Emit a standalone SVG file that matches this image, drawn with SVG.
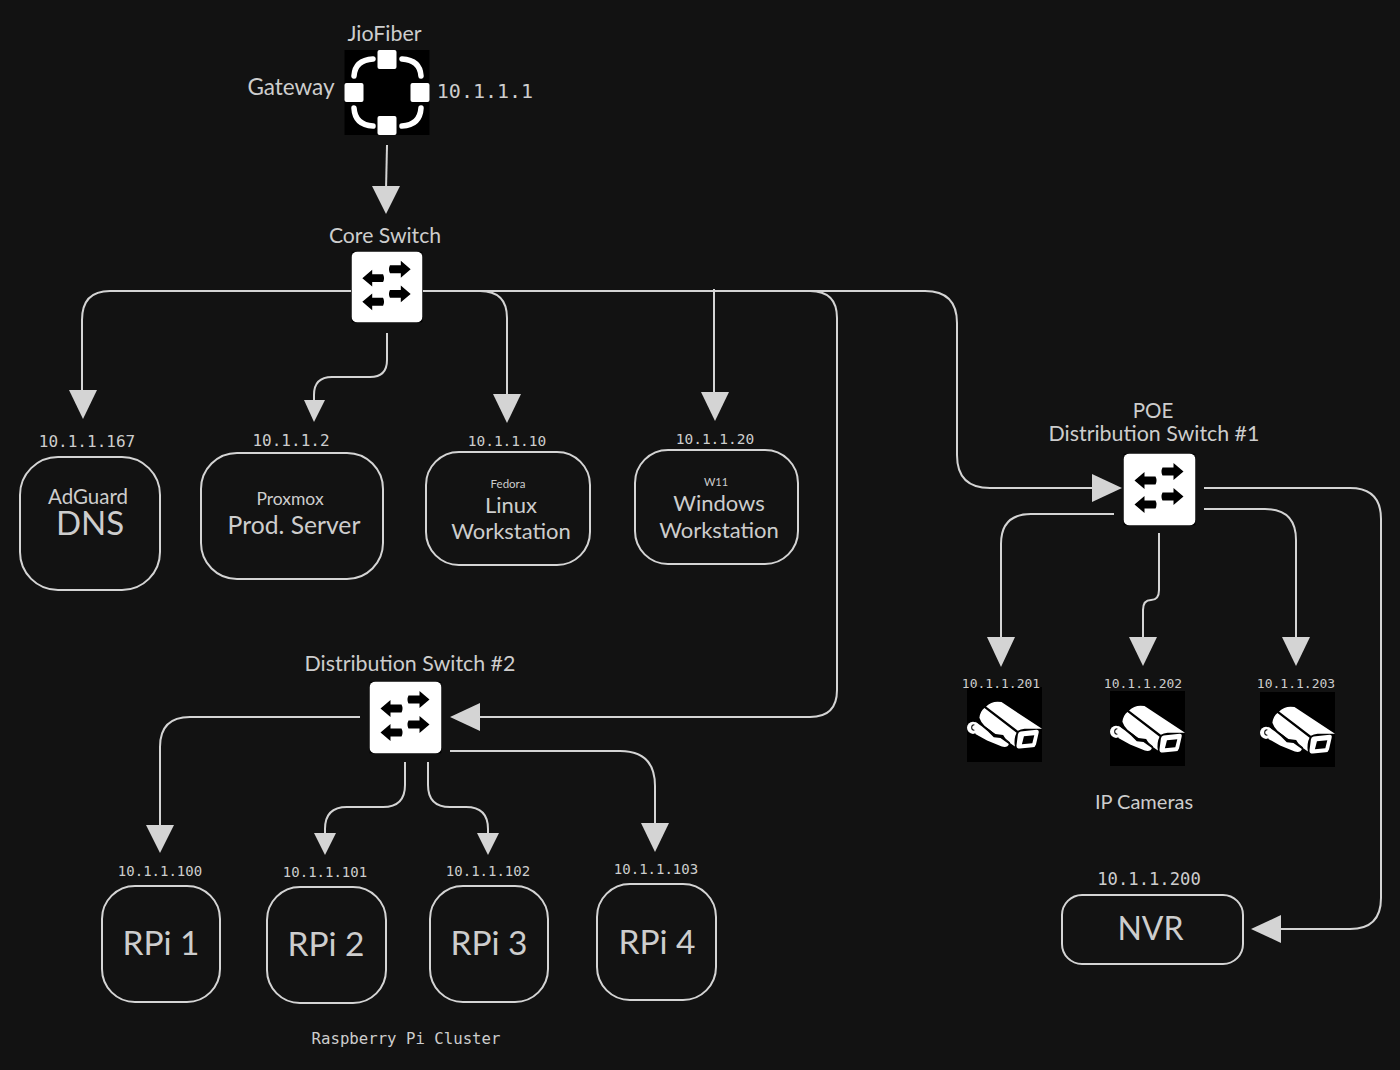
<svg xmlns="http://www.w3.org/2000/svg" width="1400" height="1070" viewBox="0 0 1400 1070">
<style>
text{font-family:"Lato","Noto Sans",sans-serif;fill:#cdcdcd;text-anchor:middle}
.m{font-family:"DejaVu Sans Mono","Liberation Mono",monospace;font-size:14px}
.c{fill:none;stroke:#d4d4d4;stroke-width:2}
.b{fill:none;stroke:#d4d4d4;stroke-width:2}
.a{fill:#d4d4d4}
</style>
<defs>
<symbol id="sw" viewBox="0 0 72 72">
<rect width="72" height="72" fill="#000"/>
<rect width="72" height="72" rx="6" fill="#fff"/>
<g fill="#000">
<path d="M11 27 L21 18.500 V23 L32 23 Q34 27 32 31 L21 31 V35.500Z"/>
<path d="M11 51 L21 42.500 V47 L32 47 Q34 51 32 55 L21 55 V59.500Z"/>
<path d="M60 18 L50 9.500 V14 L39 14 Q37 18 39 22 L50 22 V26.500Z"/>
<path d="M60 43 L50 34.500 V39 L39 39 Q37 43 39 47 L50 47 V51.500Z"/>
</g>
</symbol>
<symbol id="cam" viewBox="0 0 224 224">
<rect width="224" height="224" fill="#000"/>
<g fill="#fff">
<path d="M57 58 Q75 40 103 45 L224 125 L172 125 Q160 126 152 131Z"/>
<path d="M52 63 L148 137 Q139 155 143 178 L118 160 L108 143 L85 140 Q45 118 37 92 Q40 72 52 63Z"/>
<path d="M160 133 L208 128 Q216 128 214 137 L206 172 Q204 180 196 180 L158 184 Q146 184 148 173 L152 142 Q153 134 160 133Z"/>
<circle cx="18" cy="122" r="18"/>
<path d="M25 104 L45 118 L62 132 L80 150 L100 152 L125 170 Q122 182 104 178 L60 160 L25 140Z"/>
</g>
<path d="M170 147 L201 144 L195 168 L164 171Z" fill="#000"/>
<path d="M22 113 A8 8 0 1 0 22 129" fill="none" stroke="#000" stroke-width="3"/>
<path d="M48 116 L68 130 L84 144 L104 147 L128 167" fill="none" stroke="#000" stroke-width="3.500"/>
</symbol>
</defs>
<rect width="1400" height="1070" fill="#121212"/>

<g id="connectors">
<path class="c" d="M387 145 L386 190"/><path class="a" d="M372 186 H400 L386 214Z"/>
<path class="c" d="M351 291 H110 Q82 291 82 320 V392"/><path class="a" d="M69 390 H97 L83 419Z"/>
<path class="c" d="M387 333 V360 Q387 377 370 377 H332 Q314 377 314 395 V402"/><path class="a" d="M304 400 H325 L314 422Z"/>
<path class="c" d="M423 291 H480 Q507 291 507 318 V396"/><path class="a" d="M493 394 H521 L507 423Z"/>
<path class="c" d="M423 291 H810 Q837 291 837 318 V690 Q837 717 810 717 H478"/><path class="a" d="M480 703 V731 L450 717Z"/>
<path class="c" d="M793 291 H925 Q957 291 957 323 V455 Q957 488 990 488 H1094"/><path class="a" d="M1092 474 V502 L1122 488Z"/>
<path class="c" d="M714 289 V394"/><path class="a" d="M701 392 H729 L715 421Z"/>
<path class="c" d="M1204 488 H1350 Q1381 488 1381 519 V898 Q1381 929 1350 929 H1279"/><path class="a" d="M1281 915 V943 L1251 929Z"/>
<path class="c" d="M1204 509 H1265 Q1296 509 1296 540 V639"/><path class="a" d="M1282 637 H1310 L1296 666Z"/>
<path class="c" d="M1114 514 H1031 Q1001 514 1001 544 V639"/><path class="a" d="M987 637 H1015 L1001 667Z"/>
<path class="c" d="M1159 533 V590 Q1159 600 1151 600 Q1143 600 1143 610 V639"/><path class="a" d="M1129 637 H1157 L1143 666Z"/>
<path class="c" d="M360 717 H190 Q160 717 160 747 V827"/><path class="a" d="M146 825 H174 L160 853Z"/>
<path class="c" d="M405 762 V785 Q405 807 383 807 H347 Q325 807 325 829 V835"/><path class="a" d="M314 833 H336 L325 855Z"/>
<path class="c" d="M428 762 V785 Q428 807 450 807 H466 Q488 807 488 829 V835"/><path class="a" d="M477 833 H499 L488 855Z"/>
<path class="c" d="M450 751 H620 Q655 751 655 786 V825"/><path class="a" d="M641 823 H669 L655 852Z"/>
</g>

<g id="gateway">
<rect x="344.500" y="50" width="85" height="85" fill="#000"/>
<g fill="#fff">
<rect x="377.500" y="50" width="19" height="19" rx="2"/><rect x="377.500" y="116" width="19" height="19" rx="2"/>
<rect x="344.500" y="83" width="19" height="19" rx="2"/><rect x="410.500" y="83" width="19" height="19" rx="2"/>
</g>
<g fill="none" stroke="#fff" stroke-width="5.500" stroke-linecap="round">
<path d="M354 76 Q355 60 373 59"/><path d="M402 59 Q420 60 421 76"/>
<path d="M354 108 Q355 125 373 126"/><path d="M402 126 Q420 125 421 108"/>
</g>
<text x="384.500" y="41" font-size="21.400">JioFiber</text>
<text x="291" y="94.500" font-size="22.500">Gateway</text>
<text x="485" y="98" class="m" style="font-size:20px">10.1.1.1</text>
</g>

<g id="core-switch"><use href="#sw" x="351.500" y="251.500" width="71" height="71"/><text x="385" y="243" font-size="21.200">Core Switch</text></g>
<g id="poe-switch"><use href="#sw" x="1123.500" y="453.500" width="72" height="72"/><text x="1153" y="418" font-size="20.500">POE</text><text x="1154" y="441" font-size="21.400">Distribution Switch #1</text></g>
<g id="dist-switch"><use href="#sw" x="369.500" y="681.500" width="72" height="72"/><text x="410" y="671" font-size="21.400">Distribution Switch #2</text></g>

<g id="dns"><rect class="b" x="20" y="457" width="140" height="133" rx="38"/><text x="88" y="503.500" font-size="20.500">AdGuard</text><text x="90" y="534.500" font-size="33">DNS</text><text x="87" y="446.500" class="m" style="font-size:16px">10.1.1.167</text></g>
<g id="prod"><rect class="b" x="201" y="453" width="182" height="126" rx="36"/><text x="290" y="504.500" font-size="17.500">Proxmox</text><text x="294" y="533.500" font-size="24.700">Prod. Server</text><text x="291" y="445.500" class="m" style="font-size:16px">10.1.1.2</text></g>
<g id="linux"><rect class="b" x="426" y="452" width="164" height="113" rx="33"/><text x="508" y="488" font-size="11.500">Fedora</text><text x="511" y="512.500" font-size="22">Linux</text><text x="511" y="539" font-size="22">Workstation</text><text x="507" y="446" class="m" style="font-size:14.500px">10.1.1.10</text></g>
<g id="windows"><rect class="b" x="635" y="450" width="163" height="114" rx="33"/><text x="716" y="486" font-size="11">W11</text><text x="719" y="511" font-size="22">Windows</text><text x="719" y="538" font-size="22">Workstation</text><text x="715" y="444" class="m" style="font-size:14.500px">10.1.1.20</text></g>

<g id="rpi1"><rect class="b" x="102" y="886" width="118" height="116" rx="33"/><text x="161" y="954.500" font-size="33.500">RPi 1</text><text x="160" y="876" class="m">10.1.1.100</text></g>
<g id="rpi2"><rect class="b" x="267" y="887" width="119" height="116" rx="33"/><text x="326" y="955.500" font-size="33.500">RPi 2</text><text x="325" y="877" class="m">10.1.1.101</text></g>
<g id="rpi3"><rect class="b" x="430" y="886" width="118" height="116" rx="33"/><text x="489" y="954.500" font-size="33.500">RPi 3</text><text x="488" y="876" class="m">10.1.1.102</text></g>
<g id="rpi4"><rect class="b" x="597" y="884" width="119" height="116" rx="33"/><text x="657" y="953.500" font-size="33.500">RPi 4</text><text x="656" y="874" class="m">10.1.1.103</text></g>
<text x="406" y="1044" class="m" style="font-size:15.700px">Raspberry Pi Cluster</text>

<g id="cam1"><use href="#cam" x="967" y="687" width="75" height="75"/><text x="1001" y="688" class="m" style="font-size:13px">10.1.1.201</text></g>
<g id="cam2"><use href="#cam" x="1110" y="691" width="75" height="75"/><text x="1143" y="688" class="m" style="font-size:13px">10.1.1.202</text></g>
<g id="cam3"><use href="#cam" x="1260" y="692" width="75" height="75"/><text x="1296" y="688" class="m" style="font-size:13px">10.1.1.203</text></g>
<text x="1144" y="809" font-size="20">IP Cameras</text>

<g id="nvr"><rect class="b" x="1062" y="895" width="181" height="69" rx="20"/><text x="1150.500" y="939.500" font-size="32">NVR</text><text x="1149" y="885" class="m" style="font-size:17.200px">10.1.1.200</text></g>
</svg>
